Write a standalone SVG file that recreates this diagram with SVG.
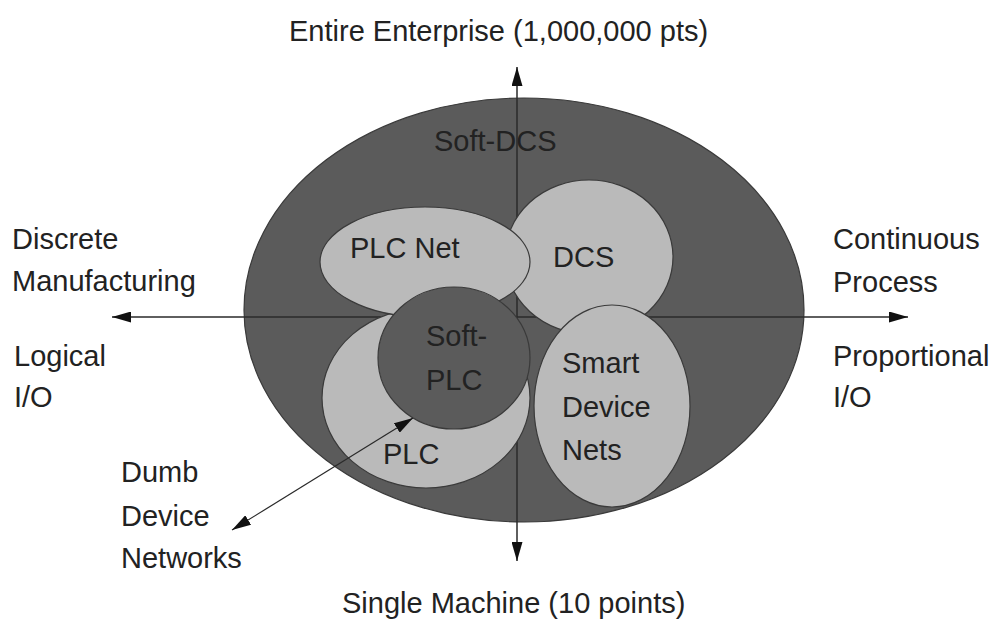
<svg xmlns="http://www.w3.org/2000/svg" width="993" height="624" viewBox="0 0 993 624">
<defs>
<style>
text{font-family:"Liberation Sans",Arial,sans-serif;font-size:29px;fill:#222}
.dark{fill:#5b5b5b;stroke:#3a3a3a;stroke-width:1.2}
.light{fill:#bababa;stroke:#3a3a3a;stroke-width:1.2}
.axis{stroke:#2a2a2a;stroke-width:1.5;fill:none}
.thin{stroke:#2a2a2a;stroke-width:1.2;fill:none}
</style>
<marker id="ah" viewBox="0 0 19 11" refX="19" refY="5.5" markerWidth="19" markerHeight="11" markerUnits="userSpaceOnUse" orient="auto-start-reverse">
<path d="M0,0 L19,5.5 L0,11 z" fill="#111"/>
</marker>
</defs>
<rect width="993" height="624" fill="#fff"/>
<g id="soft-dcs">
<ellipse class="dark" cx="524" cy="310" rx="280" ry="212"/>
<text x="434" y="151">Soft-DCS</text>
</g>
<g id="connectors">
<line class="axis" x1="517" y1="67" x2="517" y2="561" marker-start="url(#ah)" marker-end="url(#ah)"/>
<line class="axis" x1="112" y1="317" x2="908" y2="317" marker-start="url(#ah)" marker-end="url(#ah)"/>
</g>
<g id="dcs">
<ellipse class="light" cx="589" cy="257" rx="84" ry="77"/>
<text x="553" y="267">DCS</text>
</g>
<g id="plc">
<ellipse class="light" cx="426" cy="398" rx="104" ry="90"/>
<text x="383" y="464">PLC</text>
</g>
<g id="plc-net">
<ellipse class="light" cx="425" cy="262" rx="105" ry="55"/>
<text x="350" y="258">PLC Net</text>
</g>
<g id="smart-device-nets">
<ellipse class="light" cx="612" cy="406" rx="78" ry="101"/>
<text x="562" y="373">Smart</text>
<text x="562" y="417">Device</text>
<text x="562" y="460">Nets</text>
</g>
<g id="soft-plc">
<ellipse class="dark" cx="454" cy="358" rx="76" ry="71"/>
<text x="426" y="346">Soft-</text>
<text x="426" y="390">PLC</text>
</g>
<g id="dumb-arrow">
<line class="thin" x1="232" y1="530" x2="413" y2="418" marker-start="url(#ah)" marker-end="url(#ah)"/>
</g>
<g id="labels">
<text x="289" y="41">Entire Enterprise (1,000,000 pts)</text>
<text x="342" y="613">Single Machine (10 points)</text>
<text x="12" y="249">Discrete</text>
<text x="12" y="291">Manufacturing</text>
<text x="14" y="366">Logical</text>
<text x="14" y="407">I/O</text>
<text x="833" y="249">Continuous</text>
<text x="833" y="292">Process</text>
<text x="833" y="366">Proportional</text>
<text x="833" y="407">I/O</text>
<text x="121" y="482">Dumb</text>
<text x="121" y="526">Device</text>
<text x="121" y="568">Networks</text>
</g>
</svg>
